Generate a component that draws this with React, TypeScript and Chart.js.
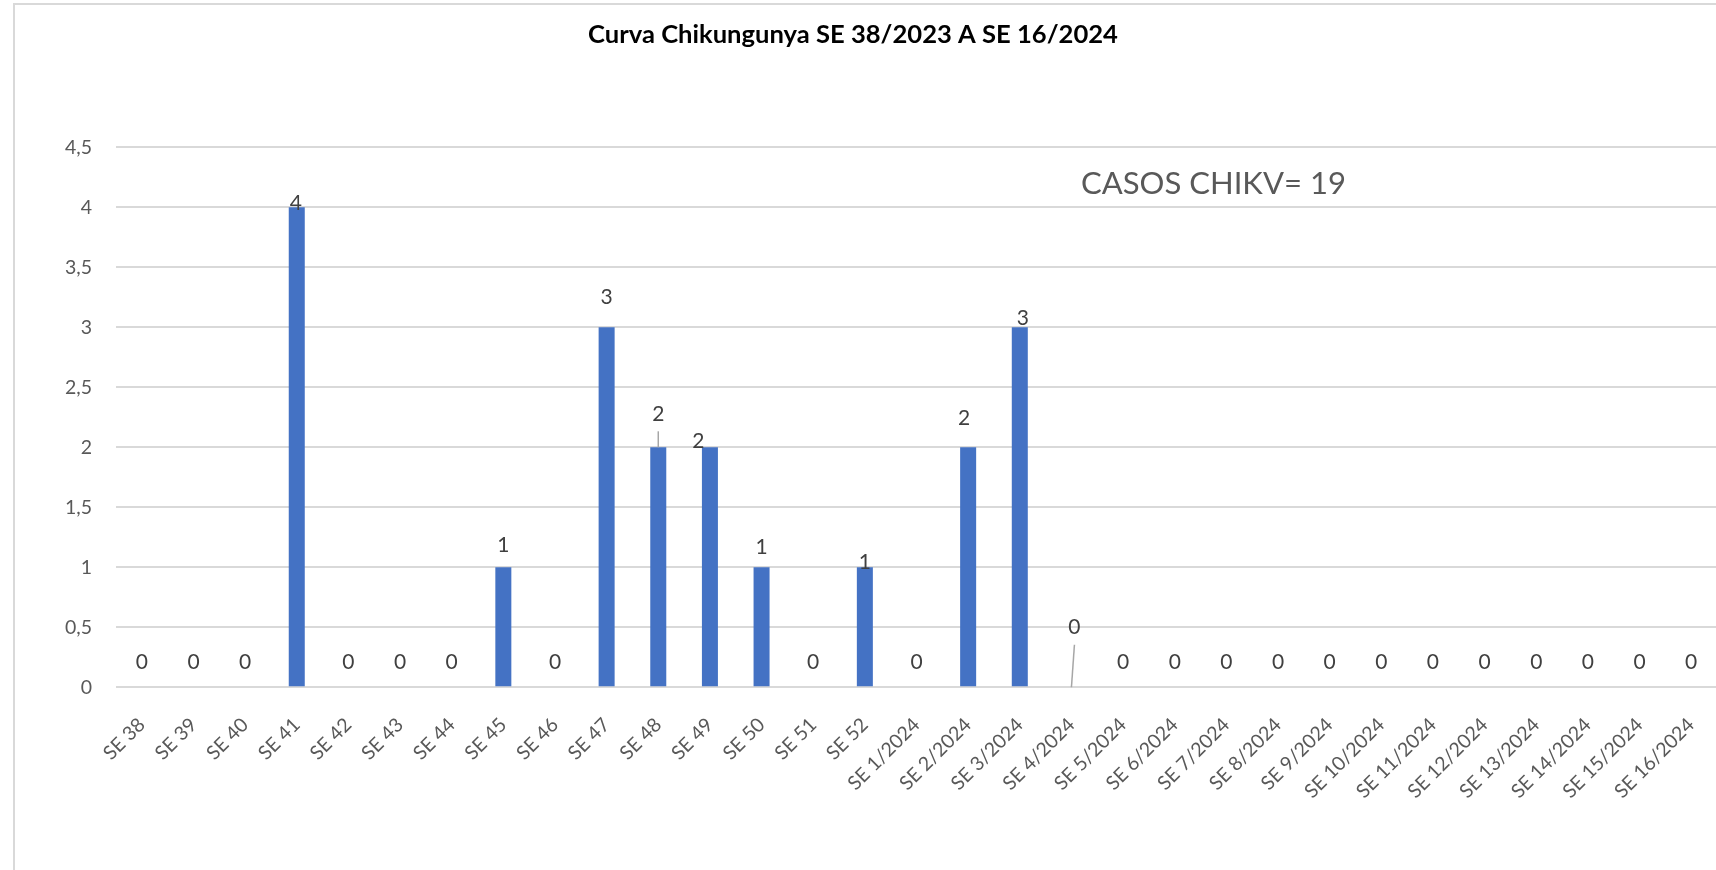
import React, { useEffect, useRef } from "react";
import { Chart, registerables } from "chart.js";

Chart.register(...registerables);

const categories = [
  "SE 38", "SE 39", "SE 40", "SE 41", "SE 42", "SE 43", "SE 44", "SE 45",
  "SE 46", "SE 47", "SE 48", "SE 49", "SE 50", "SE 51", "SE 52",
  "SE 1/2024", "SE 2/2024", "SE 3/2024", "SE 4/2024", "SE 5/2024",
  "SE 6/2024", "SE 7/2024", "SE 8/2024", "SE 9/2024", "SE 10/2024",
  "SE 11/2024", "SE 12/2024", "SE 13/2024", "SE 14/2024", "SE 15/2024",
  "SE 16/2024",
];

const casos = [
  0, 0, 0, 4, 0, 0, 0, 1, 0, 3, 2, 2, 1, 0, 1,
  0, 2, 3, 0, 0, 0, 0, 0, 0, 0, 0, 0, 0, 0, 0, 0,
];

const yMin = 0;
const yMax = 4.5;
const yStep = 0.5;

const TITLE = "Curva Chikungunya SE 38/2023 A SE 16/2024";
const NOTE = "CASOS CHIKV= 19";
// annotation anchor in data coordinates (category index, value)
const notePos = [20.75, 4.2];

// manual label nudges (styling): index -> [dx, dy] of label centre from bar top
const DEFAULT_DY = -25.6;
const labelNudges: Record<number, [number, number]> = {
  3: [-1, -5],
  7: [0, -23],
  9: [0, -31],
  10: [0, -34],
  11: [-11.7, -6.6],
  12: [0, -21.3],
  14: [0, -6.3],
  16: [-4, -29.6],
  17: [3, -9.6],
  18: [3, -60.6],
};
const leaderLines = [10, 18];

const FONT = "Lato, 'Open Sans', sans-serif";

function fitSize(text: string, weight: string, width: number) {
  const c = document.createElement("canvas").getContext("2d")!;
  c.font = `${weight} 100px ${FONT}`;
  return (100 * width) / c.measureText(text).width;
}

export default function App() {
  const ref = useRef<HTMLCanvasElement | null>(null);

  useEffect(() => {
    if (!ref.current) return;
    const titleSize = fitSize(TITLE, "bold", 530);
    const noteSize = fitSize(NOTE, "normal", 265);
    const labelSize = 21;

    const overlay = {
      id: "overlay",
      beforeDraw(chart: any) {
        const ctx = chart.ctx;
        ctx.save();
        ctx.strokeStyle = "#d9d9d9";
        ctx.lineWidth = 2;
        ctx.strokeRect(14, 4, 3000, 3000);
        ctx.restore();
      },
      afterDatasetsDraw(chart: any) {
        const ctx = chart.ctx;
        const xs = chart.scales.x;
        const ys = chart.scales.y;
        ctx.save();
        ctx.textAlign = "center";
        ctx.textBaseline = "alphabetic";
        // title
        ctx.fillStyle = "#000000";
        ctx.font = `bold ${titleSize}px ${FONT}`;
        ctx.fillText(TITLE, 853, 33.4 + 0.358 * titleSize);
        // note
        ctx.fillStyle = "#595959";
        ctx.font = `normal ${noteSize}px ${FONT}`;
        ctx.fillText(
          NOTE,
          xs.getPixelForValue(notePos[0]),
          ys.getPixelForValue(notePos[1]) + 0.358 * noteSize
        );
        // data labels
        const meta = chart.getDatasetMeta(0);
        ctx.font = `normal ${labelSize}px ${FONT}`;
        meta.data.forEach((el: any, i: number) => {
          const nud = labelNudges[i] || [0, DEFAULT_DY];
          const lx = el.x + nud[0];
          const ly = el.y + nud[1];
          if (leaderLines.includes(i)) {
            ctx.strokeStyle = "#a6a6a6";
            ctx.lineWidth = 1.5;
            ctx.beginPath();
            ctx.moveTo(lx, ly + 18);
            ctx.lineTo(el.x, el.y);
            ctx.stroke();
          }
          ctx.fillStyle = "#404040";
          ctx.fillText(String(casos[i]), lx, ly + 0.36 * labelSize);
        });
        ctx.restore();
      },
    };

    const chart = new Chart(ref.current, {
      type: "bar",
      data: {
        labels: categories,
        datasets: [
          {
            label: "Casos",
            data: casos,
            backgroundColor: "#4472C4",
            borderWidth: 0,
            barPercentage: 0.31,
            categoryPercentage: 1,
          },
        ],
      },
      options: {
        responsive: false,
        animation: false,
        devicePixelRatio: 1,
        layout: { padding: { top: 147.3, right: 23, bottom: 0, left: 0 } },
        plugins: {
          legend: { display: false },
          title: { display: false },
          tooltip: { enabled: false },
        },
        scales: {
          x: {
            grid: { display: false },
            border: { display: false },
            ticks: {
              autoSkip: false,
              maxRotation: 45,
              minRotation: 45,
              color: "#595959",
              padding: 18,
              font: { family: FONT, size: 19.5 },
            },
            afterFit: (s: any) => {
              s.height = 870 - 687.3;
            },
          },
          y: {
            min: yMin,
            max: yMax,
            border: { display: false },
            grid: { color: "#d9d9d9", lineWidth: 2, drawTicks: false },
            ticks: {
              stepSize: yStep,
              color: "#595959",
              padding: 24,
              font: { family: FONT, size: 19.5 },
              callback: (v: any) => String(v).replace(".", ","),
            },
            afterFit: (s: any) => {
              s.width = 116;
            },
          },
        },
      },
      plugins: [overlay],
    });
    return () => chart.destroy();
  }, []);

  return (
    <div
      style={{
        position: "fixed",
        left: 0,
        top: 0,
        width: 1716,
        height: 870,
        overflow: "hidden",
        background: "#ffffff",
      }}
    >
      <canvas ref={ref} width={1740} height={870} style={{ display: "block" }} />
    </div>
  );
}
